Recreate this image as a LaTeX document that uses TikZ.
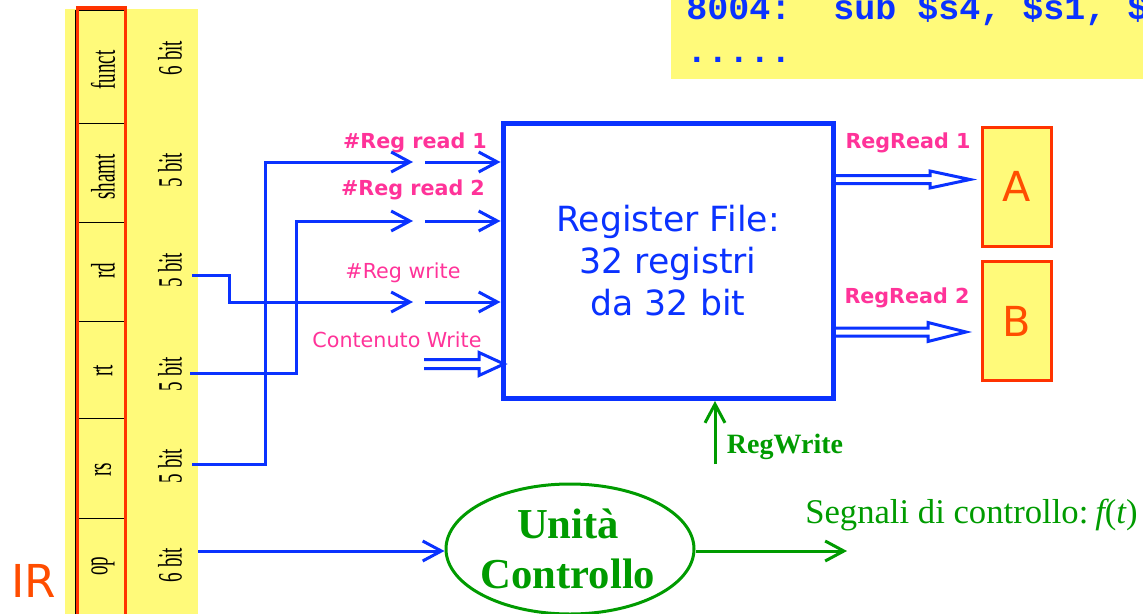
\documentclass[tikz,border=0pt]{standalone}
\usepackage{graphicx}
\usepackage{fontspec}
\setmainfont{Liberation Serif}
\newfontfamily\verd{DejaVu Sans}
\newfontfamily\cour{Liberation Mono}
\usetikzlibrary{arrows.meta,shapes.geometric,calc}

\definecolor{rfblue}{RGB}{10,50,255}
\definecolor{hotpink}{RGB}{255,51,153}
\definecolor{hiyellow}{RGB}{255,250,122}
\definecolor{regred}{RGB}{255,51,0}
\definecolor{letterred}{RGB}{255,77,0}
\definecolor{ctrlgreen}{RGB}{0,155,0}

% narrow (condensed) text for the instruction-register fields
\newcommand{\narrowtxt}[1]{\scalebox{0.56}[1]{#1}}

% hollow "bus" arrow: #1 tail, #2 tip, #3 shaft half-height, #4 head half-height, #5 head length
\newcommand{\busarrow}[5]{%
  \draw[busline] ($(#1)+(0,-#3)$) -- ($(#2)+(-#5,-#3)$) -- ($(#2)+(-#5,-#4)$) -- (#2)
    -- ($(#2)+(-#5,#4)$) -- ($(#2)+(-#5,#3)$) -- ($(#1)+(0,#3)$);}

\tikzset{
  barb/.tip={Straight Barb[length=14pt,width=15pt]},
  wire/.style={draw=rfblue, line width=2.25pt},
  gwire/.style={draw=ctrlgreen, line width=2.25pt},
  busline/.style={draw=rfblue, fill=white, line width=2.25pt, line join=miter},
  pinklbl/.style={text=hotpink, inner sep=0, font=\verd\fontsize{15.5}{18}\selectfont},
  pinkbold/.style={text=hotpink, inner sep=0, font=\verd\bfseries\fontsize{15.5}{18}\selectfont},
  fieldlbl/.style={rotate=90, inner sep=0, font=\fontsize{25.5}{28}\selectfont},
  regbox/.style={draw=regred, fill=hiyellow, line width=2.25pt, minimum width=51.75pt,
    minimum height=89.25pt, inner sep=0, text=letterred, font=\verd\fontsize{31}{36}\selectfont},
}

\begin{document}
\begin{tikzpicture}[x=0.75pt,y=-0.75pt]
\useasboundingbox (0,0) rectangle (1143,614);
\clip (0,0) rectangle (1143,614);

% ---- code listing (top right) ----
\fill[hiyellow] (671,0) rectangle (1143,79);
\node[anchor=base west, inner sep=0, text=rfblue, font=\cour\bfseries\fontsize{26.25}{30}\selectfont]
  (line1) at (686,19) {8004:\ \ sub \$s4, \$s1, \$};
\node[anchor=base west, inner sep=0, text=rfblue, font=\cour\bfseries\fontsize{26.25}{30}\selectfont]
  (line2) at (686,62) {.....};

% ---- instruction register ----
\fill[hiyellow] (65,9) rectangle (198,614);
\draw[black, line width=0.75pt] (75,10) -- (75,614);
\draw[black, line width=0.75pt] (78,10) rectangle (124,630);
\foreach \yy in {123,222,321,418,518}
  \draw[black, line width=0.75pt] (78,\yy) -- (124,\yy);
\draw[regred, line width=2.5pt] (77.5,8) rectangle (125.5,640);

\node[fieldlbl] (ffunct) at (103,70)  {\narrowtxt{funct}};
\node[fieldlbl] (fshamt) at (103,177) {\narrowtxt{shamt}};
\node[fieldlbl] (frd)    at (103,271) {\narrowtxt{rd}};
\node[fieldlbl] (frt)    at (103,371) {\narrowtxt{rt}};
\node[fieldlbl] (frs)    at (103,470) {\narrowtxt{rs}};
\node[fieldlbl] (fop)    at (103,566) {\narrowtxt{op}};

\node[fieldlbl] (bfunct) at (170,58)  {\narrowtxt{6 bit}};
\node[fieldlbl] (bshamt) at (170,170) {\narrowtxt{5 bit}};
\node[fieldlbl] (brd)    at (170,270) {\narrowtxt{5 bit}};
\node[fieldlbl] (brt)    at (170,374) {\narrowtxt{5 bit}};
\node[fieldlbl] (brs)    at (170,466) {\narrowtxt{5 bit}};
\node[fieldlbl] (bop)    at (170,565) {\narrowtxt{6 bit}};

\node[inner sep=0, text=letterred, font=\verd\fontsize{34}{40}\selectfont] (irlbl) at (33.5,581) {IR};

% ---- register file ----
\node[draw=rfblue, line width=3.75pt, minimum width=247.5pt, minimum height=206.25pt, inner sep=0,
  align=center, text=rfblue, font=\verd\fontsize{26}{31.5}\selectfont] (rf) at (668,261)
  {Register File:\\32 registri\\da 32 bit};

% ---- read registers A and B ----
\node[regbox] (A) at (1016.5,186.5) {A};
\node[regbox] (B) at (1016.5,321) {B};

% ---- input labels ----
\node[pinkbold] (lr1) at (415,143) {\#Reg read 1};
\node[pinkbold] (lr2) at (413,190) {\#Reg read 2};
\node[pinklbl]  (lw)  at (403,273) {\#Reg write};
\node[pinklbl]  (lcw) at (397,340) {Contenuto Write};
\node[pinkbold] (lo1) at (908,143) {RegRead 1};
\node[pinkbold] (lo2) at (907,298) {RegRead 2};

% ---- wire end points ----
\coordinate (rsout) at (192,464);
\coordinate (rtout) at (190,373);
\coordinate (rdout) at (192,275);
\coordinate (opout) at (198,551);
\coordinate (c1) at (265,162);
\coordinate (c2) at (296,221);
\coordinate (c3) at (229,302);
\coordinate (g1) at (413,162);
\coordinate (g2) at (413,221);
\coordinate (g3) at (413,302);
\coordinate (h1) at (425,162);
\coordinate (h2) at (425,221);
\coordinate (h3) at (425,302);

% rs -> #Reg read 1
\draw[wire, -{barb}] (rsout) -| (c1) -- (g1);
\draw[wire, -{barb}] (h1) -- (h1 -| rf.west);
% rt -> #Reg read 2
\draw[wire, -{barb}] (rtout) -| (c2) -- (g2);
\draw[wire, -{barb}] (h2) -- (h2 -| rf.west);
% rd -> #Reg write
\draw[wire, -{barb}] (rdout) -| (c3) -- (g3);
\draw[wire, -{barb}] (h3) -- (h3 -| rf.west);

% ---- bus arrows ----
\coordinate (cwtail) at (424,364);
\coordinate (cwtip) at (504,364);
\busarrow{cwtail}{cwtip}{4.5}{11.5}{25}
\coordinate (atail) at (836,179.5);
\coordinate (atip) at (970,179.5);
\busarrow{atail}{atip}{4}{8.5}{40}
\coordinate (btail) at (836,332);
\coordinate (btip) at (966,332);
\busarrow{btail}{btip}{4}{9.5}{38}

% ---- control unit ----
\node[draw=ctrlgreen, line width=2.25pt, ellipse, minimum width=186pt, minimum height=97.5pt,
  inner sep=0] (cu) at (570,549) {};
\node[inner sep=0, text=ctrlgreen, align=center, font=\bfseries\fontsize{32}{38}\selectfont]
  (cutxt) at (568,549) {Unità\\Controllo};

\draw[wire, -{barb}] (opout) -- (opout -| cu.west);

\coordinate (sigtip) at (847,551);
\draw[gwire, -{barb}] (cu.east |- sigtip) -- (sigtip);
\node[anchor=base west, inner sep=0, text=ctrlgreen, font=\fontsize{26}{30}\selectfont]
  (sig) at (805,523) {Segnali di controllo:\hspace{0.2em}{\itshape f}({\itshape t})};

\coordinate (rwsrc) at (715,464);
\draw[gwire, -{barb}] (rwsrc) -- (rwsrc |- rf.south);
\node[inner sep=0, text=ctrlgreen, font=\bfseries\fontsize{21}{24}\selectfont] (rwlbl) at (785,447) {RegWrite};

\end{tikzpicture}
\end{document}
